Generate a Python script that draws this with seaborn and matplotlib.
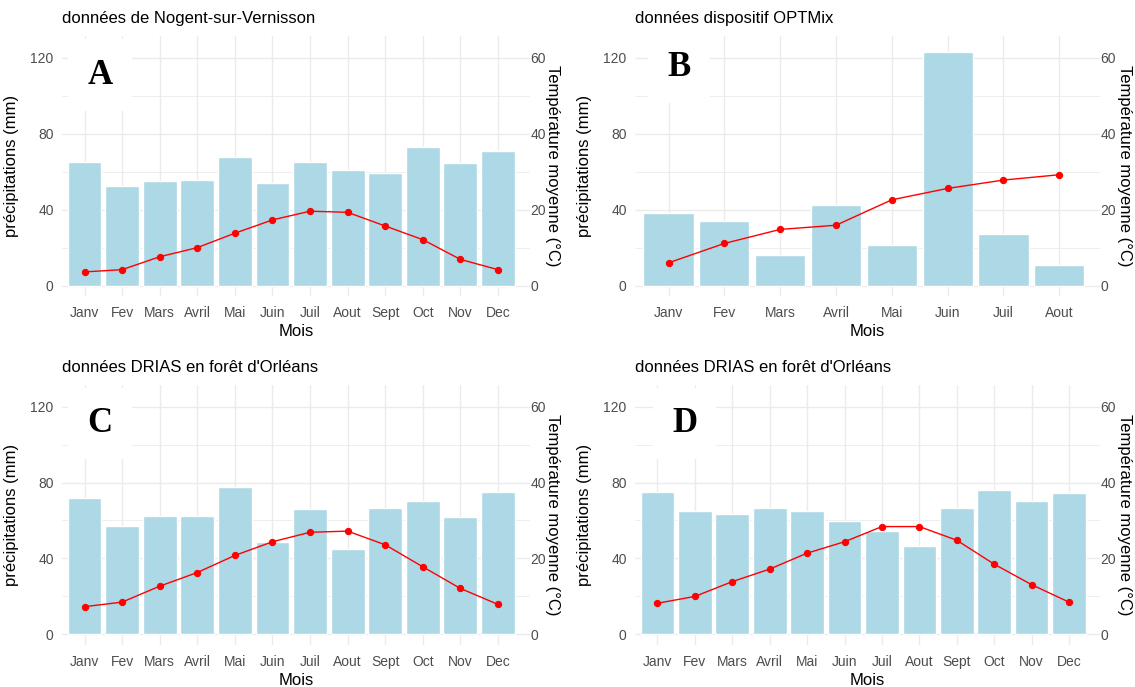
import pandas as pd
import numpy as np
import seaborn as sns
import matplotlib.pyplot as plt

# month labels
mois_12 = ['Janv', 'Fev', 'Mars', 'Avril', 'Mai', 'Juin', 'Juil', 'Aout', 'Sept', 'Oct', 'Nov', 'Dec']
mois_8 = ['Janv', 'Fev', 'Mars', 'Avril', 'Mai', 'Juin', 'Juil', 'Aout']

# A - Nogent-sur-Vernisson
precip_a = [65.3, 52.7, 55.2, 55.7, 67.8, 53.9, 65.3, 61.1, 59.4, 73.2, 64.8, 70.8]
temp_a = [3.6, 4.2, 7.6, 10.0, 13.8, 17.3, 19.6, 19.3, 15.7, 12.1, 6.9, 4.2]

# B - OPTMix
precip_b = [38.2, 34.0, 15.9, 42.4, 21.4, 123.1, 27.3, 11.0]
temp_b = [6.0, 11.1, 14.8, 15.9, 22.6, 25.6, 27.8, 29.2]

# C - DRIAS
precip_c = [72.0, 56.9, 62.3, 62.3, 77.4, 48.5, 66.0, 45.0, 66.5, 70.2, 61.8, 75.1]
temp_c = [7.3, 8.5, 12.7, 16.3, 20.8, 24.4, 26.9, 27.2, 23.6, 17.8, 12.1, 7.9]

# D - DRIAS
precip_d = [75.1, 64.8, 63.6, 66.5, 64.8, 59.5, 54.5, 46.8, 66.5, 76.2, 70.2, 74.6]
temp_d = [8.2, 10.0, 13.9, 17.2, 21.4, 24.4, 28.4, 28.4, 24.8, 18.5, 13.1, 8.5]

titres = ['données de Nogent-sur-Vernisson', 'données dispositif OPTMix',
          "données DRIAS en forêt d'Orléans", "données DRIAS en forêt d'Orléans"]
lettres = ['A', 'B', 'C', 'D']

sns.set_theme(style='white')
plt.rcParams['font.family'] = ['Liberation Sans', 'DejaVu Sans']
plt.rcParams['text.color'] = 'black'
plt.rcParams['axes.labelcolor'] = 'black'

fig = plt.figure(figsize=(11.35, 6.87), dpi=100)

# layout: panel rects, x limits, letter positions (axes fraction)
rects = [
    [0.0546, 0.5691, 0.4123, 0.3785],
    [0.5595, 0.5691, 0.4097, 0.3785],
    [0.0546, 0.0614, 0.4123, 0.3785],
    [0.5595, 0.0614, 0.4097, 0.3785],
]
xlims = [(-0.6, 11.85), (-0.6, 7.73), (-0.6, 11.85), (-0.6, 11.83)]
letter_pos = [(0.081, 0.85), (0.095, 0.88), (0.081, 0.85), (0.107, 0.85)]
right_label_x = [1.064, 1.069, 1.064, 1.069]

panels = [
    (mois_12, precip_a, temp_a),
    (mois_8, precip_b, temp_b),
    (mois_12, precip_c, temp_c),
    (mois_12, precip_d, temp_d),
]

grid_col = '#EBEBEB'
tick_col = '#4D4D4D'
ylo, yhi = -5.5, 131.5

for i, (mois, precip, temp) in enumerate(panels):
    df = pd.DataFrame({'Mois': mois, 'precip': precip, 'temp': temp})
    ax = fig.add_axes(rects[i])
    n = len(mois)

    # grid
    for v in [0, 40, 80, 120]:
        ax.axhline(v, color=grid_col, lw=1.0, zorder=0)
    for v in [20, 60, 100]:
        ax.axhline(v, color=grid_col, lw=0.6, zorder=0)
    for k in range(n):
        ax.axvline(k, color=grid_col, lw=1.0, zorder=0)

    sns.barplot(data=df, x='Mois', y='precip', color='#ADD8E6', width=0.9,
                saturation=1, ax=ax, zorder=2)
    ax.set_xlim(*xlims[i])
    ax.set_ylim(ylo, yhi)
    ax.set_yticks([0, 40, 80, 120])
    ax.set_ylabel('précipitations (mm)', fontsize=12)
    ax.yaxis.set_label_coords(-0.092, 0.5)
    ax.set_xlabel('Mois', fontsize=12, labelpad=2.5)
    ax.tick_params(axis='both', length=0, labelsize=10, labelcolor=tick_col)
    ax.tick_params(axis='x', pad=7.5)
    ax.tick_params(axis='y', pad=6)
    for s in ax.spines.values():
        s.set_visible(False)
    ax.set_title(titres[i], loc='left', fontsize=12, pad=9, color='black')

    # panel letter on a white box hiding the grid
    lx, ly = letter_pos[i]
    ax.text(lx, ly, lettres[i], transform=ax.transAxes, fontsize=25,
            fontweight='bold', family=['Liberation Serif', 'DejaVu Serif'],
            color='black', ha='center', va='center', zorder=3,
            bbox=dict(boxstyle='square,pad=0.55', facecolor='white', edgecolor='none'))

    ax2 = ax.twinx()
    sns.pointplot(data=df, x='Mois', y='temp', color='red', errorbar=None,
                  markersize=4.5, linewidth=1, ax=ax2)
    ax2.set_xlim(*xlims[i])
    ax2.set_ylim(ylo / 2, yhi / 2)
    ax2.set_yticks([0, 20, 40, 60])
    ax2.set_ylabel('Température moyenne (°C)', fontsize=12, rotation=270)
    ax2.set_xlabel('')
    ax2.tick_params(axis='both', length=0, labelsize=10, labelcolor=tick_col, pad=0.5)
    ax2.grid(False)
    for s in ax2.spines.values():
        s.set_visible(False)
    ax2.yaxis.set_label_coords(right_label_x[i], 0.5)

fig.savefig('out.png', dpi=100, facecolor='white')
